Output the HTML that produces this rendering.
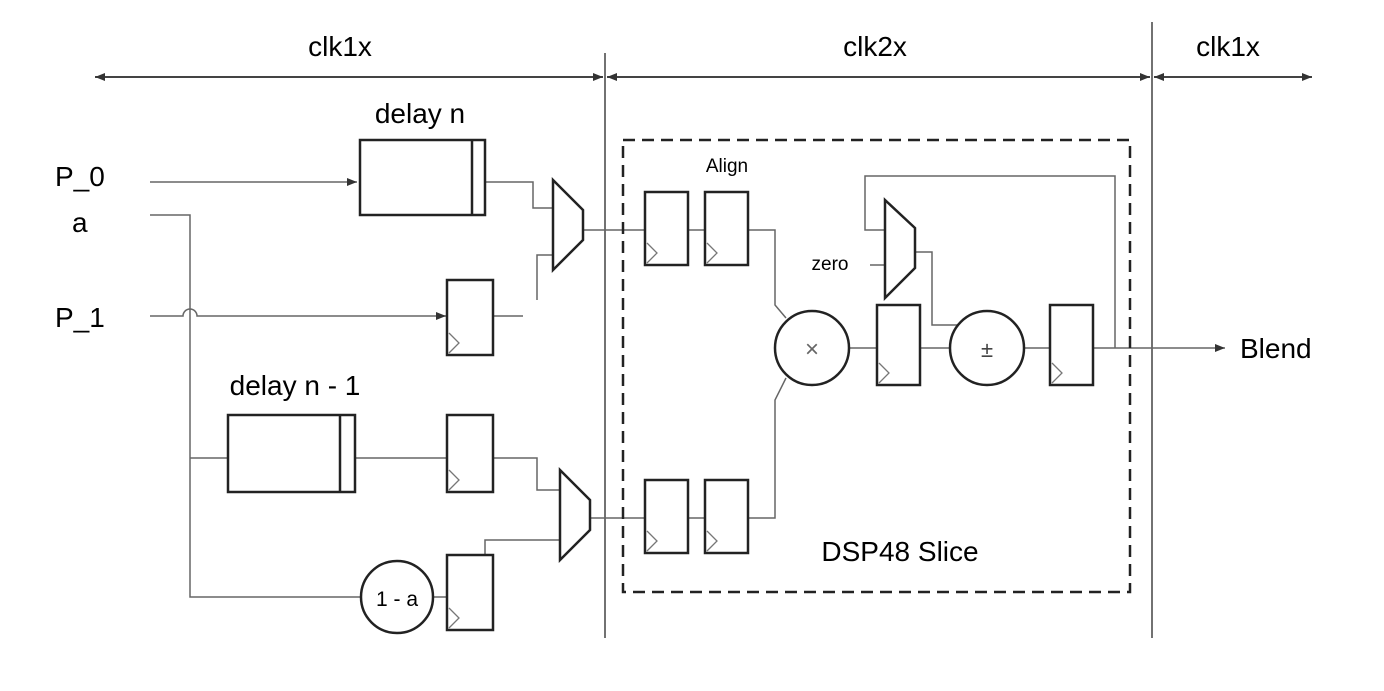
<!DOCTYPE html>
<html><head><meta charset="utf-8"><style>
html,body{margin:0;padding:0;background:#fff}
svg{display:block}
text{font-family:"Liberation Sans",sans-serif;fill:#000}
</style></head><body>
<svg width="1384" height="691" viewBox="0 0 1384 691" xmlns="http://www.w3.org/2000/svg">
<defs>
<marker id="ah" markerWidth="10" markerHeight="8" refX="10" refY="4" orient="auto" markerUnits="userSpaceOnUse"><path d="M0,0 L10,4 L0,8 z" fill="#333"/></marker>
<marker id="as" markerWidth="10" markerHeight="8" refX="0" refY="4" orient="auto" markerUnits="userSpaceOnUse"><path d="M10,0 L0,4 L10,8 z" fill="#333"/></marker>
</defs>
<text x="340" y="56" font-size="28" text-anchor="middle">clk1x</text>
<text x="875" y="56" font-size="28" text-anchor="middle">clk2x</text>
<text x="1228" y="56" font-size="28" text-anchor="middle">clk1x</text>
<g stroke="#444" stroke-width="2" fill="none">
<line x1="95" y1="77" x2="603" y2="77" marker-start="url(#as)" marker-end="url(#ah)"/>
<line x1="607" y1="77" x2="1150" y2="77" marker-start="url(#as)" marker-end="url(#ah)"/>
<line x1="1154" y1="77" x2="1312" y2="77" marker-start="url(#as)" marker-end="url(#ah)"/>
</g>
<g stroke="#444" stroke-width="1.5">
<line x1="605" y1="53" x2="605" y2="638"/>
<line x1="1152" y1="22" x2="1152" y2="638"/>
</g>
<text x="55" y="186" font-size="28">P_0</text>
<text x="72" y="232" font-size="28">a</text>
<text x="55" y="327" font-size="28">P_1</text>
<text x="420" y="123" font-size="28" text-anchor="middle">delay n</text>
<text x="295" y="395" font-size="28" text-anchor="middle">delay n - 1</text>
<text x="727" y="172" font-size="19" text-anchor="middle">Align</text>
<text x="830" y="270" font-size="19" text-anchor="middle">zero</text>
<text x="900" y="561" font-size="28" text-anchor="middle">DSP48 Slice</text>
<text x="1240" y="358" font-size="28">Blend</text>
<g stroke="#666" stroke-width="1.5" fill="none">
<line x1="150" y1="182" x2="357" y2="182" marker-end="url(#ah)"/>
<path d="M150,215 H190 V597 H360"/>
<path d="M150,316 H183 A7,7 0 0 1 197,316 H446" marker-end="url(#ah)"/>
<path d="M485,182 H533 V208 H553"/>
<path d="M493,316 H523"/>
<path d="M537,300 V255 H553"/>
<path d="M583,230 H645"/>
<path d="M688,230 H705"/>
<path d="M748,230 H775 V305 L786,318"/>
<path d="M688,518 H705"/>
<path d="M748,518 H775 V400 L786,378"/>
<path d="M849,348 H877"/>
<path d="M920,348 H950"/>
<path d="M1024,348 H1050"/>
<path d="M1093,348 H1225" marker-end="url(#ah)"/>
<path d="M1115,348 V176 H865 V230 H885"/>
<path d="M870,265 H885"/>
<path d="M915,252 H932 V325 H958"/>
<path d="M190,458 H228"/>
<path d="M355,458 H447"/>
<path d="M493,458 H537 V490 H560"/>
<path d="M590,518 H645"/>
<path d="M434,597 H447"/>
<path d="M485,555 V540 H560"/>
</g>
<rect x="623" y="140" width="507" height="452" fill="none" stroke="#222" stroke-width="2.5" stroke-dasharray="12,7"/>
<g stroke="#222" stroke-width="2.5" fill="#fff">
<rect x="360" y="140" width="125" height="75"/>
<line x1="472" y1="140" x2="472" y2="215"/>
<rect x="228" y="415" width="127" height="77"/>
<line x1="340" y1="415" x2="340" y2="492"/>
</g>
<g stroke="#222" stroke-width="2.5" fill="#fff">
<rect x="447" y="280" width="46" height="75"/>
<rect x="447" y="415" width="46" height="77"/>
<rect x="447" y="555" width="46" height="75"/>
<rect x="645" y="192" width="43" height="73"/>
<rect x="705" y="192" width="43" height="73"/>
<rect x="645" y="480" width="43" height="73"/>
<rect x="705" y="480" width="43" height="73"/>
<rect x="877" y="305" width="43" height="80"/>
<rect x="1050" y="305" width="43" height="80"/>
</g>
<g stroke="#777" stroke-width="1.3" fill="none">
<path d="M449,333 L459,343 L449,353"/>
<path d="M449,470 L459,480 L449,490"/>
<path d="M449,608 L459,618 L449,628"/>
<path d="M647,243 L657,253 L647,263"/>
<path d="M707,243 L717,253 L707,263"/>
<path d="M647,531 L657,541 L647,551"/>
<path d="M707,531 L717,541 L707,551"/>
<path d="M879,363 L889,373 L879,383"/>
<path d="M1052,363 L1062,373 L1052,383"/>
</g>
<g stroke="#222" stroke-width="2.5" fill="#fff">
<path d="M553,180 L583,210 L583,240 L553,270 Z"/>
<path d="M560,470 L590,500 L590,530 L560,560 Z"/>
<path d="M885,200 L915,228 L915,268 L885,298 Z"/>
</g>
<g stroke="#222" stroke-width="2.5" fill="#fff">
<circle cx="812" cy="348" r="37"/>
<circle cx="987" cy="348" r="37"/>
<circle cx="397" cy="597" r="36"/>
</g>
<text x="812" y="357" font-size="24" text-anchor="middle" style="fill:#666">×</text>
<text x="987" y="357" font-size="22" text-anchor="middle" style="fill:#444">±</text>
<text x="397" y="606" font-size="21" text-anchor="middle">1 - a</text>
</svg>
</body></html>
